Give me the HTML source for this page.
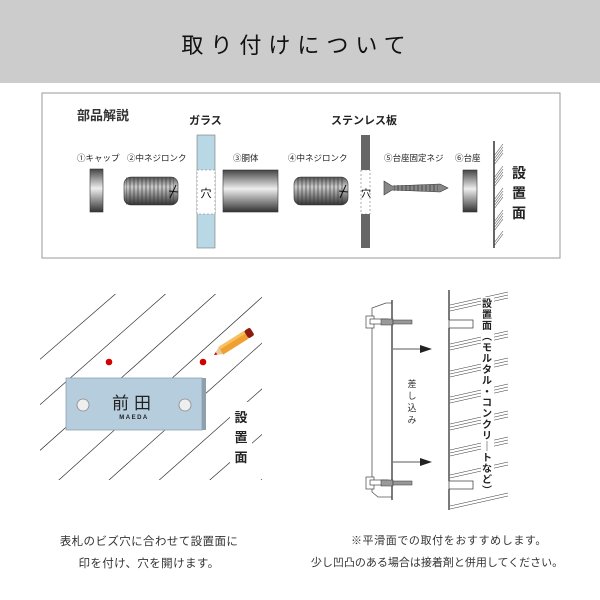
<!DOCTYPE html>
<html><head><meta charset="utf-8"><style>
html,body{margin:0;padding:0;background:#fff;}
svg{display:block;font-family:"Liberation Sans","Noto Sans CJK JP",sans-serif;}
</style></head><body>
<svg width="600" height="600" viewBox="0 0 600 600" xmlns="http://www.w3.org/2000/svg">
<defs>
<linearGradient id="cyl" x1="0" y1="0" x2="0" y2="1">
<stop offset="0" stop-color="#444"/><stop offset="0.45" stop-color="#eee"/><stop offset="1" stop-color="#333"/>
</linearGradient>
<linearGradient id="cylb" x1="0" y1="0" x2="0" y2="1">
<stop offset="0" stop-color="#555"/><stop offset="0.35" stop-color="#ccc"/><stop offset="1" stop-color="#333"/>
</linearGradient>
<pattern id="thr" width="4" height="40" patternUnits="userSpaceOnUse">
<rect width="4" height="40" fill="none"/><path d="M2 0 L2 40" stroke="#333" stroke-width="1"/>
</pattern>
<clipPath id="hc"><polygon points="40,294 262,294 262,480 40,480"/></clipPath>
</defs>
<rect x="0" y="0" width="600" height="83" fill="#cccccc"/>
<text x="297" y="53" text-anchor="middle" font-size="22" letter-spacing="7" fill="#111">取り付けについて</text>

<rect x="42" y="93" width="518" height="165" fill="#fff" stroke="#999" stroke-width="1"/>
<text x="77" y="120" font-size="13" font-weight="bold" fill="#333">部品解説</text>
<text x="189" y="124" font-size="11" font-weight="bold" fill="#222">ガラス</text>
<text x="331" y="124" font-size="11" font-weight="bold" fill="#222">ステンレス板</text>
<g font-size="8.5" fill="#222">
<text x="77" y="161">①キャップ</text>
<text x="127" y="161">②中ネジロンク</text>
<text x="233" y="161">③胴体</text>
<text x="288" y="161">④中ネジロンク</text>
<text x="384" y="161">⑤台座固定ネジ</text>
<text x="455" y="161">⑥台座</text>
</g>
<rect x="197" y="135" width="18" height="113" fill="#b9d8e5" stroke="#777" stroke-width="0.6"/>
<rect x="197" y="170" width="18" height="44" fill="#fff" stroke="#777" stroke-width="0.6" stroke-dasharray="2,2"/>
<text x="206" y="197" text-anchor="middle" font-size="11">穴</text>
<rect x="361" y="135" width="9" height="113" fill="#666"/>
<rect x="361" y="170" width="9" height="44" fill="#fff" stroke="#777" stroke-width="0.6" stroke-dasharray="2,2"/>
<text x="366" y="197" text-anchor="middle" font-size="10">穴</text>
<rect x="90" y="169" width="13" height="43" fill="url(#cyl)" stroke="#333" stroke-width="0.6"/>
<rect x="124" y="177" width="54" height="28" rx="7" fill="url(#cylb)" stroke="#333" stroke-width="0.6"/>
<rect x="126" y="177" width="48" height="28" fill="url(#thr)" opacity="0.6"/>
<path d="M170 198 L176 185 M169 191 L178 192" stroke="#111" stroke-width="1"/>
<rect x="223" y="170" width="55" height="42" fill="url(#cyl)" stroke="#333" stroke-width="0.6"/>
<rect x="294" y="177" width="54" height="28" rx="7" fill="url(#cylb)" stroke="#333" stroke-width="0.6"/>
<rect x="296" y="177" width="48" height="28" fill="url(#thr)" opacity="0.6"/>
<path d="M340 198 L346 185 M339 191 L348 192" stroke="#111" stroke-width="1"/>
<path d="M384 181 L392 186 L440 184 L448 188 L440 192 L392 190 L384 195 Z" fill="#888" stroke="#333" stroke-width="0.6"/>
<rect x="394" y="185" width="44" height="6" fill="url(#thr)" opacity="0.7"/>
<rect x="463" y="170" width="14" height="42" fill="url(#cyl)" stroke="#333" stroke-width="0.6"/>
<line x1="494" y1="141" x2="494" y2="248" stroke="#333" stroke-width="1.5"/>
<g stroke="#555" stroke-width="0.6">
<path d="M494 156 L503 144 M494 159 L503 147 M494 162 L503 150 M494 165 L503 153"/>
<path d="M494 178 L503 166 M494 181 L503 169 M494 184 L503 172 M494 187 L503 175"/>
<path d="M494 200 L503 188 M494 203 L503 191 M494 206 L503 194 M494 209 L503 197"/>
<path d="M494 222 L503 210 M494 225 L503 213 M494 228 L503 216 M494 231 L503 219"/>
<path d="M494 243 L503 231 M494 246 L503 234"/>
</g>
<g font-size="14" font-weight="bold" fill="#222" text-anchor="middle">
<text x="519" y="178">設</text><text x="519" y="198">置</text><text x="519" y="218">面</text>
</g>

<!-- bottom left hatching -->
<g stroke="#333" stroke-width="0.7" clip-path="url(#hc)">
<line x1="0" y1="394" x2="120" y2="290"/>
<line x1="0" y1="440" x2="170" y2="290"/>
<line x1="0" y1="486" x2="220" y2="290"/>
<line x1="30" y1="506" x2="270" y2="290"/>
<line x1="80" y1="506" x2="290" y2="318"/>
<line x1="130" y1="506" x2="290" y2="364"/>
<line x1="180" y1="506" x2="290" y2="410"/>
<line x1="230" y1="506" x2="290" y2="456"/>
</g>
<rect x="230" y="402" width="22" height="64" fill="#fff"/>
<circle cx="109" cy="362" r="3.3" fill="#d40000"/>
<circle cx="203" cy="362" r="3.3" fill="#d40000"/>
<g transform="translate(214,355) rotate(-32)">
<polygon points="0,0 8,-4 8,4" fill="#e8c9a0"/>
<polygon points="0,0 3,-1.5 3,1.5" fill="#d40000"/>
<rect x="8" y="-4.5" width="30" height="9" fill="#f0a030"/>
<rect x="8" y="-4.5" width="30" height="3" fill="#f7c060"/>
<rect x="38" y="-4.5" width="7" height="9" rx="2" fill="#8a1c10"/>
</g>
<rect x="66" y="378" width="136" height="52" fill="#b6cddd" stroke="#8fa3b3" stroke-width="0.8"/>
<rect x="202" y="378" width="4" height="52" fill="#8fa0ad"/>
<circle cx="83" cy="405" r="6" fill="#eee" stroke="#888" stroke-width="0.8"/>
<circle cx="185" cy="405" r="6" fill="#eee" stroke="#888" stroke-width="0.8"/>
<text x="134" y="409" text-anchor="middle" font-size="17" letter-spacing="5" fill="#222">前田</text>
<text x="134" y="419" text-anchor="middle" font-size="6" font-weight="bold" letter-spacing="1.5" fill="#222">MAEDA</text>
<g font-size="13" font-weight="bold" fill="#222" text-anchor="middle">
<text x="241" y="422">設</text><text x="241" y="442">置</text><text x="241" y="462">面</text>
</g>

<!-- bottom right -->
<path d="M386 303 L372 308 L372 492 L378 497 L392 497 L392 303 Z" fill="#fff" stroke="#555" stroke-width="0.8"/>
<line x1="392" y1="300" x2="392" y2="500" stroke="#444" stroke-width="1.4"/>
<g stroke="#444" stroke-width="0.7" fill="#fff">
<rect x="366" y="316" width="8" height="12"/>
<rect x="370" y="319" width="18" height="5"/>
<rect x="366" y="477" width="8" height="12"/>
<rect x="370" y="480" width="18" height="5"/>
</g>
<rect x="381" y="319" width="12" height="6" fill="#999" stroke="#333" stroke-width="0.5"/>
<rect x="393" y="320" width="19" height="4" fill="#999" stroke="#333" stroke-width="0.5"/>
<rect x="381" y="480" width="12" height="6" fill="#999" stroke="#333" stroke-width="0.5"/>
<rect x="393" y="481" width="19" height="4" fill="#999" stroke="#333" stroke-width="0.5"/>
<line x1="393" y1="349" x2="422" y2="349" stroke="#222" stroke-width="0.8"/>
<polygon points="420,345 432,349 420,353" fill="#222"/>
<line x1="393" y1="462" x2="422" y2="462" stroke="#222" stroke-width="0.8"/>
<polygon points="420,458 432,462 420,466" fill="#222"/>
<g font-size="9" fill="#333" text-anchor="middle">
<text x="412" y="387">差</text><text x="412" y="399">し</text><text x="412" y="411">込</text><text x="412" y="423">み</text>
</g>
<line x1="449" y1="290" x2="449" y2="320" stroke="#222" stroke-width="1.2"/>
<line x1="449" y1="328" x2="449" y2="481" stroke="#222" stroke-width="1.2"/>
<line x1="449" y1="489" x2="449" y2="510" stroke="#222" stroke-width="1.2"/>
<rect x="449" y="320" width="24" height="8" fill="#fff" stroke="#333" stroke-width="0.7"/>
<rect x="449" y="481" width="24" height="8" fill="#fff" stroke="#333" stroke-width="0.7"/>
<g stroke="#333" stroke-width="0.5">
<path d="M450 305 L508 292 M450 308 L508 295 M450 311 L508 298"/>
<path d="M450 344 L508 331 M450 347 L508 334 M450 350 L508 337"/>
<path d="M450 371 L508 358 M450 374 L508 361 M450 377 L508 364"/>
<path d="M450 397 L508 384 M450 400 L508 387 M450 403 L508 390"/>
<path d="M450 424 L508 411 M450 427 L508 414 M450 430 L508 417"/>
<path d="M450 450 L508 437 M450 453 L508 440 M450 456 L508 443"/>
<path d="M450 475 L508 462 M450 478 L508 465"/>
<path d="M450 506 L508 493 M450 509 L508 496"/>
</g>
<g font-size="10" font-weight="bold" fill="#222" text-anchor="middle">
<rect x="481" y="297" width="13" height="198" fill="#fff"/>
<text x="487" y="307">設</text><text x="487" y="318">置</text><text x="487" y="329">面</text>
<text x="487" y="340">︵</text><text x="487" y="351">モ</text><text x="487" y="362">ル</text>
<text x="487" y="373">タ</text><text x="487" y="384">ル</text><text x="487" y="395">・</text>
<text x="487" y="406">コ</text><text x="487" y="417">ン</text><text x="487" y="428">ク</text>
<text x="487" y="439">リ</text><text x="487" y="450">｜</text><text x="487" y="461">ト</text>
<text x="487" y="472">な</text><text x="487" y="483">ど</text><text x="487" y="494">︶</text>
</g>

<g font-size="11.5" fill="#333" text-anchor="middle" letter-spacing="0.4">
<text x="149" y="545">表札のビズ穴に合わせて設置面に</text>
<text x="149" y="567">印を付け、穴を開けます。</text>
</g>
<g font-size="11" fill="#333" text-anchor="middle">
<text x="449" y="544" letter-spacing="0.6">※平滑面での取付をおすすめします。</text>
<text x="437" y="566">少し凹凸のある場合は接着剤と併用してください。</text>
</g>
</svg>
</body></html>
